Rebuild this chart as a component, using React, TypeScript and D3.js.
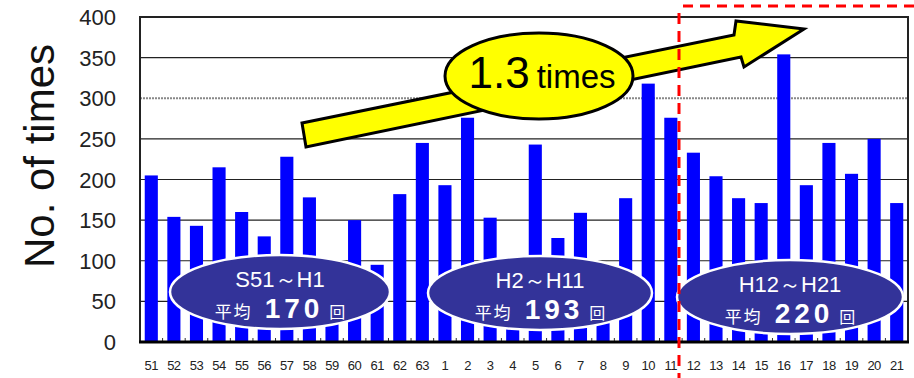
import React from "react";
import * as d3 from "d3";

const categories = ["51","52","53","54","55","56","57","58","59","60","61","62","63","1","2","3","4","5","6","7","8","9","10","11","12","13","14","15","16","17","18","19","20","21"];
const values = [205,154,143,215,160,130,228,178,100,150,95,182,245,193,276,153,104,243,128,159,94,177,318,276,233,204,177,171,354,193,245,207,250,171];
const yTicks = [0,50,100,150,200,250,300,350,400];
const periods = [
  { label: "S51～H1", avg: "170" },
  { label: "H2～H11", avg: "193" },
  { label: "H12～H21", avg: "220" },
];

const W = 914, H = 378;
const left = 140, right = 908, top = 17, bottom = 342;

export default function App() {
  const x = d3.scaleBand<string>().domain(categories).range([left, right]).paddingInner(0.42).paddingOuter(0.21);
  const y = d3.scaleLinear().domain([0, 400]).range([bottom, top]);
  const step = x.step();
  const ellipses = [
    { cx: 280, cy: 292, rx: 110, ry: 37 },
    { cx: 540, cy: 293, rx: 112, ry: 37 },
    { cx: 790, cy: 297, rx: 113, ry: 37 },
  ];
  const arrowPts: [number, number][] = [
    [302, 123], [734, 35], [736, 21], [804, 29], [744, 67], [741, 57], [306, 147],
  ];
  const font = "Arial, 'Liberation Sans', sans-serif";
  const cjk = "'Noto Sans CJK JP', sans-serif";
  return (
    <svg width={W} height={H} style={{ position: "absolute", left: 0, top: 0, background: "#fff" }} fontFamily={font}>
      {yTicks.filter(t => t > 0 && t < 400).map(t => (
        <line key={t} x1={left} x2={right} y1={y(t)} y2={y(t)}
          stroke={t === 300 ? "#888" : "#222"} strokeWidth={t === 300 ? 2 : 1.2} strokeDasharray={t === 300 ? "2,1" : undefined} />
      ))}
      {categories.map((c, i) => (
        <line key={"t" + i} x1={left + step * i} x2={left + step * i} y1={bottom} y2={bottom - 4} stroke="#333" strokeWidth={1} />
      ))}
      {values.map((v, i) => (
        <rect key={i} x={x(categories[i])} y={y(v)} width={x.bandwidth()} height={bottom - y(v)} fill="#0000ff" />
      ))}
      <rect x={left} y={top} width={right - left} height={bottom - top} fill="none" stroke="#222" strokeWidth={2} />
      <line x1={left - 1} x2={right + 1} y1={bottom} y2={bottom} stroke="#000" strokeWidth={3} />
      {yTicks.map(t => (
        <text key={t} x={116} y={y(t) + 8} textAnchor="end" fontSize={22} fill="#222">{t}</text>
      ))}
      <text transform="translate(54,156) rotate(-90)" textAnchor="middle" fontSize={42} fill="#111">No. of times</text>
      {categories.map(c => (
        <text key={c} x={(x(c) as number) + x.bandwidth() / 2} y={370} textAnchor="middle" fontSize={13} fill="#222" letterSpacing={-0.5}>{c}</text>
      ))}
      {periods.map((p, i) => {
        const e = ellipses[i];
        return (
          <g key={p.label}>
            <ellipse cx={e.cx} cy={e.cy} rx={e.rx} ry={e.ry} fill="#333399" stroke="#fff" strokeWidth={2.5} />
            <text x={e.cx} y={e.cy - 5} textAnchor="middle" fontSize={22} fill="#fff">{p.label}</text>
            <text x={e.cx} y={e.cy + 26} textAnchor="middle" fill="#fff">
              <tspan fontSize={17} fontFamily={cjk} letterSpacing={2}>平均</tspan>
              <tspan fontSize={28} fontWeight="bold" dx={12} letterSpacing={4}>{p.avg}</tspan>
              <tspan fontSize={16} dx={6} fontFamily={cjk}>回</tspan>
            </text>
          </g>
        );
      })}
      <polygon points={arrowPts.map(p => p.join(",")).join(" ")} fill="#ffff00" stroke="#000" strokeWidth={3} strokeLinejoin="miter" />
      <ellipse cx={539} cy={76} rx={94} ry={43} fill="#ffff00" stroke="#000" strokeWidth={3} />
      <text x={542} y={88} textAnchor="middle" fill="#000">
        <tspan fontSize={44}>1.3</tspan>
        <tspan fontSize={33} dx={7}>times</tspan>
      </text>
      <line x1={679} x2={679} y1={13} y2={H} stroke="#ff0000" strokeWidth={3} strokeDasharray="11,7" />
      <line x1={683} x2={W} y1={6} y2={6} stroke="#ff0000" strokeWidth={3} strokeDasharray="10,7" />
    </svg>
  );
}
